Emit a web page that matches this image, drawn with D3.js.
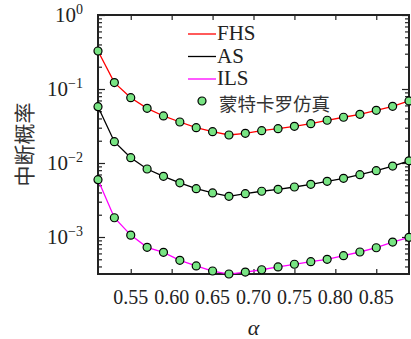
<!DOCTYPE html>
<html>
<head>
<meta charset="utf-8">
<script src="https://cdn.jsdelivr.net/npm/d3@7"></script>
<style>
  body { margin: 0; background: #fff; }
  svg { display: block; }
</style>
</head>
<body>
<svg id="chart" width="411" height="339"></svg>
<script>
// ------------------------------------------
//  Data
// ------------------------------------------
const alpha = [0.51, 0.53, 0.55, 0.57, 0.59, 0.61, 0.63, 0.65, 0.67, 0.69,
  0.71, 0.73, 0.75, 0.77, 0.79, 0.81, 0.83, 0.85, 0.87, 0.89]

const fhs = [0.326, 0.122, 0.0763, 0.0548, 0.0432, 0.0358, 0.0300, 0.0265, 0.0239, 0.0252,
  0.0273, 0.0291, 0.0313, 0.0340, 0.0378, 0.0415, 0.0455, 0.0515, 0.0584, 0.0689]

const as = [0.0577, 0.0194, 0.0118, 0.0083, 0.0066, 0.0054, 0.0045, 0.00394, 0.00355, 0.00385,
  0.00415, 0.00441, 0.00474, 0.00515, 0.00566, 0.00621, 0.00695, 0.00787, 0.0091, 0.0107]

const ils = [0.00595, 0.00182, 0.00106, 0.000726, 0.000621, 0.000484, 0.000406, 0.000347, 0.000316, 0.000336,
  0.000361, 0.000394, 0.000428, 0.000464, 0.0005, 0.000559, 0.000627, 0.000716, 0.000855, 0.00099]

const xTicks = [0.55, 0.60, 0.65, 0.70, 0.75, 0.80, 0.85]
const yMajor = [1, 1e-1, 1e-2, 1e-3]
const yMajorLabels = ['0', '\u22121', '\u22122', '\u22123']

const seriesNames = ['FHS', 'AS', 'ILS']
const seriesColors = ['#ff0000', '#000000', '#ff00ff']
const mcLabel = '蒙特卡罗仿真'
const yTitle = '中断概率'
const xTitle = 'α'

const SERIF = '"Liberation Serif", "Times New Roman", "DejaVu Serif", serif'
const CJK = '"Noto Sans CJK SC", sans-serif'

// ------------------------------------------
//  Chart
// ------------------------------------------
const svg = d3.select('#chart')
const margin = { top: 15, right: 2, bottom: 65, left: 98 }
const width = 411 - margin.left - margin.right
const height = 339 - margin.top - margin.bottom
const g = svg.append('g').attr('transform', `translate(${margin.left},${margin.top})`)

const x = d3.scaleLinear().domain([0.51, 0.89]).range([0, width])
const y = d3.scaleLog().domain([Math.pow(10, -3.5), 1]).range([height, 0])

// minor log ticks
const yMinor = []
for (let e = -4; e < 0; e++) {
  for (let k = 2; k <= 9; k++) {
    const v = k * Math.pow(10, e)
    if (v >= y.domain()[0] && v <= 1) yMinor.push(v)
  }
}

const tickStyle = sel => {
  sel.select('.domain').remove()
  sel.selectAll('line').attr('stroke', '#222').attr('stroke-width', 1.2)
}

// y axes, left and right, ticks pointing inward
g.append('g').call(d3.axisLeft(y).tickValues(yMajor).tickSize(-7).tickFormat('')).call(tickStyle)
g.append('g').call(d3.axisLeft(y).tickValues(yMinor).tickSize(-4).tickFormat('')).call(tickStyle)
g.append('g').attr('transform', `translate(${width},0)`)
  .call(d3.axisRight(y).tickValues(yMajor).tickSize(-7).tickFormat('')).call(tickStyle)
g.append('g').attr('transform', `translate(${width},0)`)
  .call(d3.axisRight(y).tickValues(yMinor).tickSize(-4).tickFormat('')).call(tickStyle)

// x axes, bottom and top
g.append('g').attr('transform', `translate(0,${height})`)
  .call(d3.axisBottom(x).tickValues(xTicks).tickSize(-5).tickFormat('')).call(tickStyle)
g.append('g')
  .call(d3.axisTop(x).tickValues(xTicks).tickSize(-5).tickFormat('')).call(tickStyle)

// tick labels
g.selectAll('.xlab').data(xTicks).enter().append('text')
  .attr('class', 'xlab')
  .attr('x', d => x(d))
  .attr('y', height + 30)
  .attr('text-anchor', 'middle')
  .attr('font-family', SERIF)
  .attr('font-size', 20)
  .attr('fill', '#222')
  .text(d => d.toFixed(2))

const ylab = g.selectAll('.ylab').data(yMajor).enter().append('text')
  .attr('class', 'ylab')
  .attr('x', -15)
  .attr('y', d => y(d) + 7)
  .attr('text-anchor', 'end')
  .attr('font-family', SERIF)
  .attr('font-size', 21)
  .attr('fill', '#222')
ylab.append('tspan').text('10')
ylab.append('tspan')
  .attr('dy', -8)
  .attr('font-size', 14)
  .text((d, i) => yMajorLabels[i])

// frame
g.append('rect')
  .attr('width', width).attr('height', height)
  .attr('fill', 'none').attr('stroke', '#222').attr('stroke-width', 2)

// series lines
const line = d3.line().x((d, i) => x(alpha[i])).y(d => y(d))
const allSeries = [fhs, as, ils]
allSeries.forEach((s, i) => {
  g.append('path').datum(s)
    .attr('d', line)
    .attr('fill', 'none')
    .attr('stroke', seriesColors[i])
    .attr('stroke-width', 1.3)
})

// Monte-Carlo markers
allSeries.forEach(s => {
  g.selectAll(null).data(s).enter().append('circle')
    .attr('cx', (d, i) => x(alpha[i]))
    .attr('cy', d => y(d))
    .attr('r', 4)
    .attr('fill', '#78e483')
    .attr('stroke', '#000')
    .attr('stroke-width', 1.2)
})

// legend
const legend = svg.append('g').attr('transform', 'translate(188,34)')
seriesNames.forEach((name, i) => {
  const row = legend.append('g').attr('transform', `translate(0,${i * 22.5})`)
  row.append('line').attr('x1', 0).attr('x2', 28).attr('y1', 0).attr('y2', 0)
    .attr('stroke', seriesColors[i]).attr('stroke-width', 1.3)
  row.append('text').attr('x', 29).attr('y', 6)
    .attr('font-family', SERIF).attr('font-size', 21).attr('fill', '#222')
    .text(name)
})
const mcRow = legend.append('g').attr('transform', 'translate(0,67)')
mcRow.append('circle').attr('cx', 14).attr('cy', 0).attr('r', 4)
  .attr('fill', '#78e483').attr('stroke', '#000').attr('stroke-width', 1.2)
mcRow.append('text').attr('x', 31).attr('y', 9.5)
  .attr('font-family', CJK).attr('font-size', 18.5).attr('fill', '#333')
  .text(mcLabel)

// axis titles
svg.append('text')
  .attr('transform', `translate(32,${margin.top + height / 2}) rotate(-90)`)
  .attr('text-anchor', 'middle')
  .attr('font-family', CJK)
  .attr('font-size', 21)
  .attr('fill', '#333')
  .text(yTitle)

svg.append('text')
  .attr('x', margin.left + width / 2)
  .attr('y', 335)
  .attr('text-anchor', 'middle')
  .attr('font-family', SERIF)
  .attr('font-size', 22)
  .attr('font-style', 'italic')
  .attr('fill', '#222')
  .text(xTitle)
</script>
</body>
</html>
